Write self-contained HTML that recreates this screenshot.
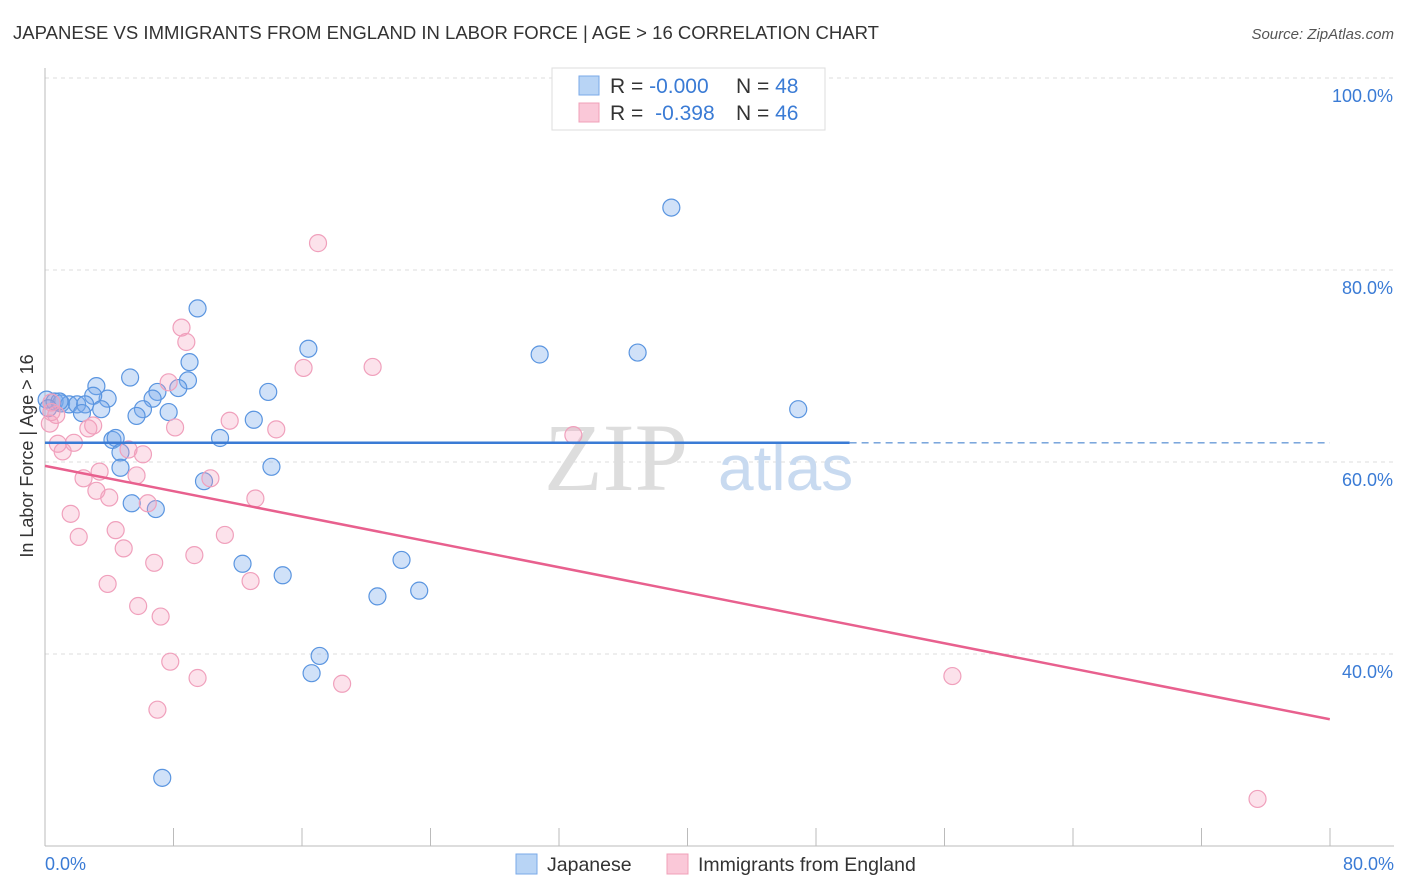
<!DOCTYPE html>
<html><head><meta charset="utf-8">
<style>
body{margin:0;background:#fff;font-family:"Liberation Sans",sans-serif;}
svg{display:block}
</style></head>
<body>
<svg id="chart" width="1406" height="892" viewBox="0 0 1406 892">
<text x="13" y="39" font-size="18" fill="#333" textLength="866" lengthAdjust="spacingAndGlyphs">JAPANESE VS IMMIGRANTS FROM ENGLAND IN LABOR FORCE | AGE &gt; 16 CORRELATION CHART</text>
<text x="1394" y="39" font-size="15" fill="#555" font-style="italic" text-anchor="end">Source: ZipAtlas.com</text>
<g id="grid"></g>
<text x="688" y="490" font-size="96" fill="#ddd" font-family="Liberation Serif,serif" text-anchor="end">ZIP</text>
<text x="718" y="490" font-size="64" fill="#c8daf0">atlas</text>
<line x1="45" y1="68" x2="45" y2="846" stroke="#bbb"/>
<line x1="45" y1="846" x2="1394" y2="846" stroke="#bbb"/>
<g id="xticks"></g>
<g id="ylabels"></g>
<text x="45" y="870" font-size="18" fill="#3a7bd5">0.0%</text>
<text x="1394" y="870" font-size="18" fill="#3a7bd5" text-anchor="end">80.0%</text>
<text transform="translate(33,456) rotate(-90)" font-size="18" fill="#333" text-anchor="middle">In Labor Force | Age &gt; 16</text>
<g id="pts"></g>
<g id="trends"></g>
<g>
<rect x="552" y="68" width="273" height="62" fill="#fff" stroke="#ddd"/>
<rect x="579" y="76" width="20" height="19" fill="#b8d4f5" stroke="#7aaae8"/>
<rect x="579" y="103" width="20" height="19" fill="#fac8d8" stroke="#f0a0b8"/>
<text x="610" y="93" font-size="21" fill="#333">R = <tspan fill="#3a7bd5">-0.000</tspan><tspan x="736">N = </tspan><tspan fill="#3a7bd5">48</tspan></text>
<text x="610" y="120" font-size="21" fill="#333">R = <tspan fill="#3a7bd5" dx="6">-0.398</tspan><tspan x="736">N = </tspan><tspan fill="#3a7bd5">46</tspan></text>
</g>
<g>
<rect x="516" y="854" width="21" height="20" fill="#b8d4f5" stroke="#7aaae8"/>
<text x="547" y="871" font-size="19.5" fill="#333">Japanese</text>
<rect x="667" y="854" width="21" height="20" fill="#fac8d8" stroke="#f0a0b8"/>
<text x="698" y="871" font-size="19.5" fill="#333">Immigrants from England</text>
</g>
</svg>
<script>
const yTicks=[40,60,80,100];
const yTickLabels=["40.0%","60.0%","80.0%","100.0%"];
const japaneseX=[39,9.5,16.4,30.8,36.9,9,5.3,8.9,3.2,8.3,7,13.9,3.9,6.7,3,0.1,0.6,1,1.5,2,2.5,3.5,6.1,46.9,7.7,5.7,2.3,13,10.9,4.2,4.4,4.7,4.7,14.1,9.9,5.4,6.9,12.3,22.2,14.8,20.7,23.3,17.1,16.6,7.3,0.9,0.2];
const japaneseY=[86.5,76,71.8,71.2,71.4,70.4,68.8,68.5,67.9,67.7,67.3,67.3,66.6,66.6,66.9,66.5,66.3,66.1,66,66,66,65.5,65.5,65.5,65.2,64.8,65.1,64.4,62.5,62.3,62.5,61,59.4,59.5,58,55.7,55.1,49.4,49.8,48.2,46,46.6,39.8,38,27.1,66.3,65.6];
const englandX=[17,8.5,8.8,16.1,20.4,7.7,0.4,0.7,0.3,3,2.7,8.1,11.5,14.4,32.9,0.8,1.8,1.1,5.2,6.1,3.4,10.3,2.4,5.7,3.2,4,6.4,13.1,1.6,4.4,11.2,2.1,4.9,9.3,6.8,3.9,12.8,5.8,7.2,7.8,9.5,18.5,7,56.5,75.5,0.4];
const englandY=[82.8,74,72.5,69.8,69.9,68.3,66.2,64.9,64,63.8,63.5,63.6,64.3,63.4,62.8,61.9,62,61.1,61.3,60.8,59,58.3,58.3,58.6,57,56.3,55.7,56.2,54.6,52.9,52.4,52.2,51,50.3,49.5,47.3,47.6,45,43.9,39.2,37.5,36.9,34.2,37.7,24.9,65.2];
const blueTrend=[62.0,62.0];
const pinkTrend=[59.6,33.2];
const NS="http://www.w3.org/2000/svg";
const X=v=>45+v*16.06, Y=v=>846-(v-20)*9.6;
function mk(t,a,p){const e=document.createElementNS(NS,t);for(const k in a)e.setAttribute(k,a[k]);p.appendChild(e);return e;}
const grid=document.getElementById('grid'),yl=document.getElementById('ylabels');
yTicks.forEach((t,i)=>{
 const l=mk('line',{x1:45,x2:1394,y1:Y(t),y2:Y(t),stroke:'#ddd','stroke-dasharray':'4,4'},grid);
 
 
 const tx=mk('text',{x:1393,y:Y(t)+24,'font-size':18,fill:'#3a7bd5','text-anchor':'end'},yl);
 tx.textContent=yTickLabels[i];
 
 
});
const xt=document.getElementById('xticks');
for(let i=1;i<=10;i++){const x=45+i*128.5;const l=mk('line',{x1:x,x2:x,y1:828,y2:846,stroke:'#bbb'},xt);
 
 }
const pts=document.getElementById('pts');
japaneseX.forEach((v,i)=>{const c=mk('circle',{cx:X(v),cy:Y(japaneseY[i]),r:8.5,fill:'rgba(120,170,235,0.35)',stroke:'#5a95e0','stroke-width':1.2},pts);
 
 });
englandX.forEach((v,i)=>{const c=mk('circle',{cx:X(v),cy:Y(englandY[i]),r:8.5,fill:'rgba(245,160,190,0.3)',stroke:'#f0a0bc','stroke-width':1.2},pts);
 
 });
const tr=document.getElementById('trends');
let l=mk('line',{x1:X(0),x2:X(50.1),y1:Y(blueTrend[0]),y2:Y(blueTrend[0]+(blueTrend[1]-blueTrend[0])*50.1/80),stroke:'#3a7bd5','stroke-width':2.5},tr);


l=mk('line',{x1:X(50.1),x2:X(80),y1:Y(blueTrend[0]+(blueTrend[1]-blueTrend[0])*50.1/80),y2:Y(blueTrend[1]),stroke:'#6a9bd8','stroke-width':1.3,'stroke-dasharray':'7,5'},tr);


l=mk('line',{x1:X(0),x2:X(80),y1:Y(pinkTrend[0]),y2:Y(pinkTrend[1]),stroke:'#e8608e','stroke-width':2.5},tr);


</script>
</body></html>
